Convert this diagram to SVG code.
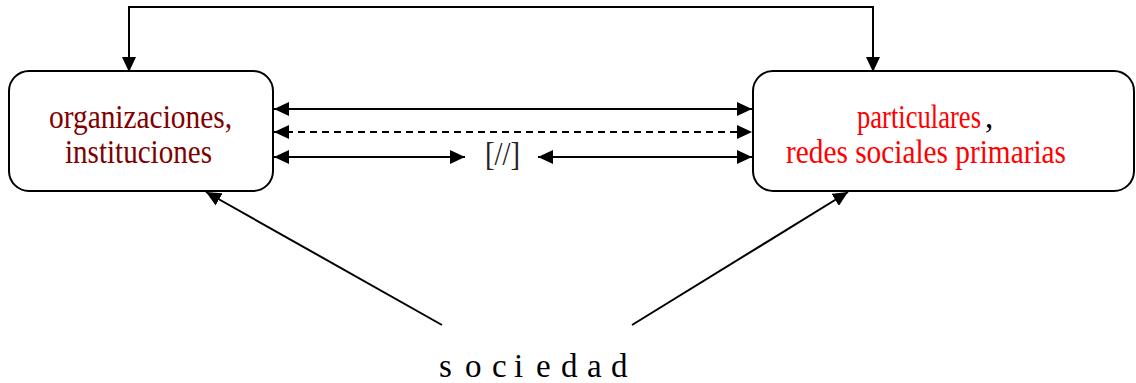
<svg xmlns="http://www.w3.org/2000/svg" width="1136" height="383" viewBox="0 0 1136 383">
<style>
.box{fill:#fff;stroke:#000;stroke-width:2}
.lbl{font-family:"Liberation Serif","Times New Roman",serif;font-size:33px}
.c{fill:none;stroke:#000;stroke-width:2}
.d{stroke-dasharray:7 5}
</style>
<defs>
<marker id="ah" markerUnits="userSpaceOnUse" markerWidth="16" markerHeight="14" refX="15" refY="7" orient="auto-start-reverse">
<path d="M0,0 L15,7 L0,14 z" fill="#000"/>
</marker>
</defs>
<rect width="1136" height="383" fill="#fff"/>
<g id="n-org">
<rect class="box" x="9" y="71" width="264" height="120" rx="20"/>
<text class="lbl" fill="#800000" x="49" y="128" textLength="183" lengthAdjust="spacingAndGlyphs">organizaciones,</text>
<text class="lbl" fill="#800000" x="65" y="163" textLength="147" lengthAdjust="spacingAndGlyphs">instituciones</text>
</g>
<g id="n-part">
<rect class="box" x="753" y="71" width="381" height="120" rx="20"/>
<text class="lbl" x="857" y="128" fill="#ff0000" textLength="124" lengthAdjust="spacingAndGlyphs">particulares</text>
<text class="lbl" x="985" y="128" fill="#000">,</text>
<text class="lbl" x="786" y="163" fill="#ff0000" textLength="280" lengthAdjust="spacingAndGlyphs">redes sociales primarias</text>
</g>
<g id="n-soc">
<text class="lbl" font-size="36" x="439 465 492 514 536 561 587 611" y="377">sociedad</text>
</g>
<g id="n-sep">
<text class="lbl" x="485" y="165" fill="#222" textLength="35" lengthAdjust="spacingAndGlyphs">[//]</text>
</g>
<g id="connectors">
<path class="c" d="M129,72 V7 H873 V72" marker-start="url(#ah)" marker-end="url(#ah)"/>
<line class="c" x1="274" y1="109" x2="752" y2="109" marker-start="url(#ah)" marker-end="url(#ah)"/>
<line class="c d" x1="274" y1="132" x2="752" y2="132" marker-start="url(#ah)" marker-end="url(#ah)"/>
<line class="c" x1="274" y1="157" x2="465" y2="157" marker-start="url(#ah)" marker-end="url(#ah)"/>
<line class="c" x1="538" y1="157" x2="752" y2="157" marker-start="url(#ah)" marker-end="url(#ah)"/>
<line class="c" x1="442" y1="325" x2="206" y2="192" marker-end="url(#ah)"/>
<line class="c" x1="632" y1="325" x2="848" y2="192" marker-end="url(#ah)"/>
</g>
</svg>
